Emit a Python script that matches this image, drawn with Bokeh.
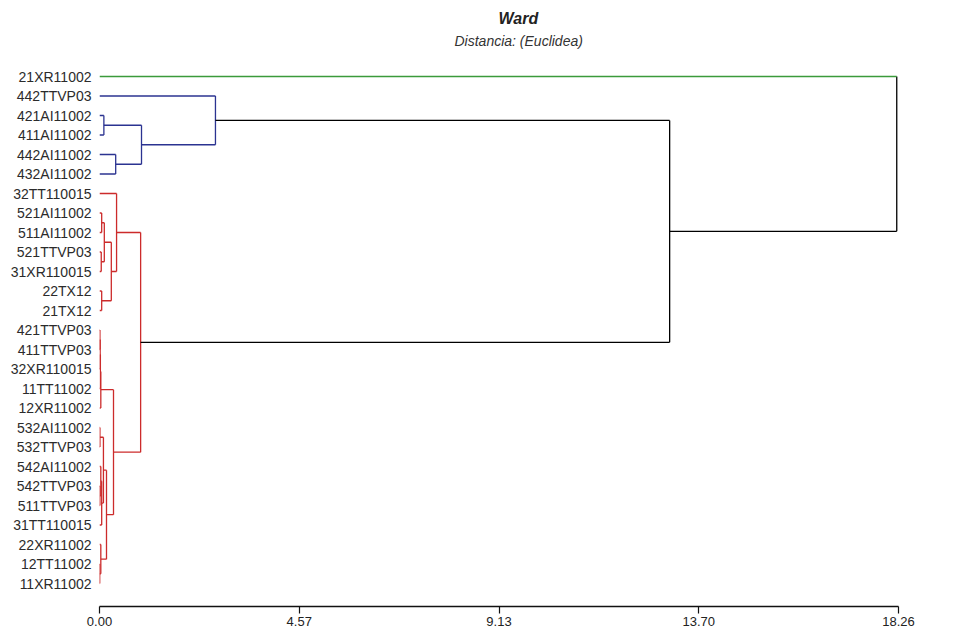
from bokeh.plotting import figure
from bokeh.models import Range1d, FixedTicker, Title, ColumnDataSource
from bokeh.embed import file_html
from bokeh.resources import INLINE

# ---------------- data ----------------
leaves = [
    "21XR11002", "442TTVP03", "421AI11002", "411AI11002", "442AI11002",
    "432AI11002", "32TT110015", "521AI11002", "511AI11002", "521TTVP03",
    "31XR110015", "22TX12", "21TX12", "421TTVP03", "411TTVP03",
    "32XR110015", "11TT11002", "12XR11002", "532AI11002", "532TTVP03",
    "542AI11002", "542TTVP03", "511TTVP03", "31TT110015", "22XR11002",
    "12TT11002", "11XR11002",
]
# cluster of each leaf: 0 = green, 1 = blue, 2 = red
leaf_cluster = [0, 1, 1, 1, 1, 1] + [2] * 21
cluster_colors = ["#3b9a3b", "#2b3391", "#cc2b2b"]
link_color = "#000000"

# merges (scipy style ids: < 27 leaf, >= 27 merge number + 27)
merge_left = [2, 4, 27, 1,
              7, 9, 31, 11, 33, 6,
              13, 37, 38, 39,
              18, 21, 20, 43, 41,
              25, 24,
              45, 40, 36, 30, 0]
merge_right = [3, 5, 28, 29,
               8, 10, 32, 12, 34, 35,
               14, 15, 16, 17,
               19, 22, 42, 23, 44,
               26, 46,
               47, 48, 49, 50, 51]
merge_height = [0.10, 0.37, 0.96, 2.65,
                0.05, 0.04, 0.11, 0.05, 0.27, 0.39,
                0.01, 0.015, 0.02, 0.03,
                0.01, 0.01, 0.03, 0.05, 0.09,
                0.005, 0.03,
                0.16, 0.32, 0.94, 13.03, 18.22]

tick_values = [0.0, 4.565, 9.13, 13.695, 18.26]
tick_labels = ["0.00", "4.57", "9.13", "13.70", "18.26"]

title_text = "Ward"
subtitle_text = "Distancia: (Euclidea)"

# ---------------- dendrogram geometry ----------------
n = len(leaves)
node_x = [0.0] * n
node_y = [float(i) for i in range(n)]
node_members = [{leaf_cluster[i]} for i in range(n)]
node_color = [cluster_colors[leaf_cluster[i]] for i in range(n)]

x0, y0, x1, y1, col = [], [], [], [], []
for l, r, h in zip(merge_left, merge_right, merge_height):
    members = node_members[l] | node_members[r]
    c = cluster_colors[next(iter(members))] if len(members) == 1 else link_color
    # vertical
    x0.append(h); y0.append(node_y[l]); x1.append(h); y1.append(node_y[r]); col.append(c)
    # legs
    for ch in (l, r):
        leg_c = node_color[ch] if ch < n else c
        x0.append(node_x[ch]); y0.append(node_y[ch])
        x1.append(h); y1.append(node_y[ch]); col.append(leg_c)
    node_x.append(h)
    node_y.append((node_y[l] + node_y[r]) / 2.0)
    node_members.append(members)
    node_color.append(c)

src = ColumnDataSource(dict(x0=x0, y0=y0, x1=x1, y1=y1, color=col))

# ---------------- figure ----------------
row_px = 19.5
p = figure(width=940, height=630, output_backend="svg", toolbar_location=None,
           title=title_text,
           x_range=Range1d(0, tick_values[-1]),
           y_range=Range1d(n - 1 + 23 / row_px, -25 / row_px),
           min_border_left=99, min_border_right=42,
           min_border_top=51, min_border_bottom=24)
p.outline_line_color = None
p.xgrid.visible = False
p.ygrid.visible = False
p.background_fill_color = "white"
p.border_fill_color = "white"

p.segment("x0", "y0", "x1", "y1", source=src, line_color="color", line_width=1.3)

# x axis
xa = p.xaxis[0]
xa.ticker = FixedTicker(ticks=tick_values)
xa.major_label_overrides = {v: t for v, t in zip(tick_values, tick_labels)}
xa.axis_line_color = "#111111"
xa.axis_line_width = 1.6
xa.major_tick_line_color = "#111111"
xa.major_tick_line_width = 1.2
xa.major_tick_out = 7
xa.major_tick_in = 0
xa.minor_tick_line_color = None
xa.major_label_standoff = 3
xa.major_label_text_font = "Liberation Sans"
xa.major_label_text_font_size = "13px"
xa.major_label_text_color = "#222222"

# y axis (leaf labels)
ya = p.yaxis[0]
ya.ticker = FixedTicker(ticks=list(range(n)))
ya.major_label_overrides = {i: name for i, name in enumerate(leaves)}
ya.axis_line_color = None
ya.major_tick_line_color = None
ya.minor_tick_line_color = None
ya.major_tick_out = 0
ya.major_tick_in = 0
ya.major_label_standoff = 8
ya.major_label_text_font = "Liberation Sans"
ya.major_label_text_font_size = "14px"
ya.major_label_text_color = "#2b2b2b"

# titles: main title outermost, subtitle next to the frame
p.title.align = "left"
p.title.offset = 399
p.title.text_font = "Liberation Sans"
p.title.text_font_size = "16px"
p.title.text_font_style = "bold italic"
p.title.text_color = "#222222"
p.title.standoff = 2

p.add_layout(Title(text=subtitle_text, align="left", offset=355,
                   text_font="Liberation Sans", text_font_size="14px",
                   text_font_style="italic", text_color="#333333",
                   standoff=6), "above")

open("out.html", "w").write(file_html(p, INLINE))
